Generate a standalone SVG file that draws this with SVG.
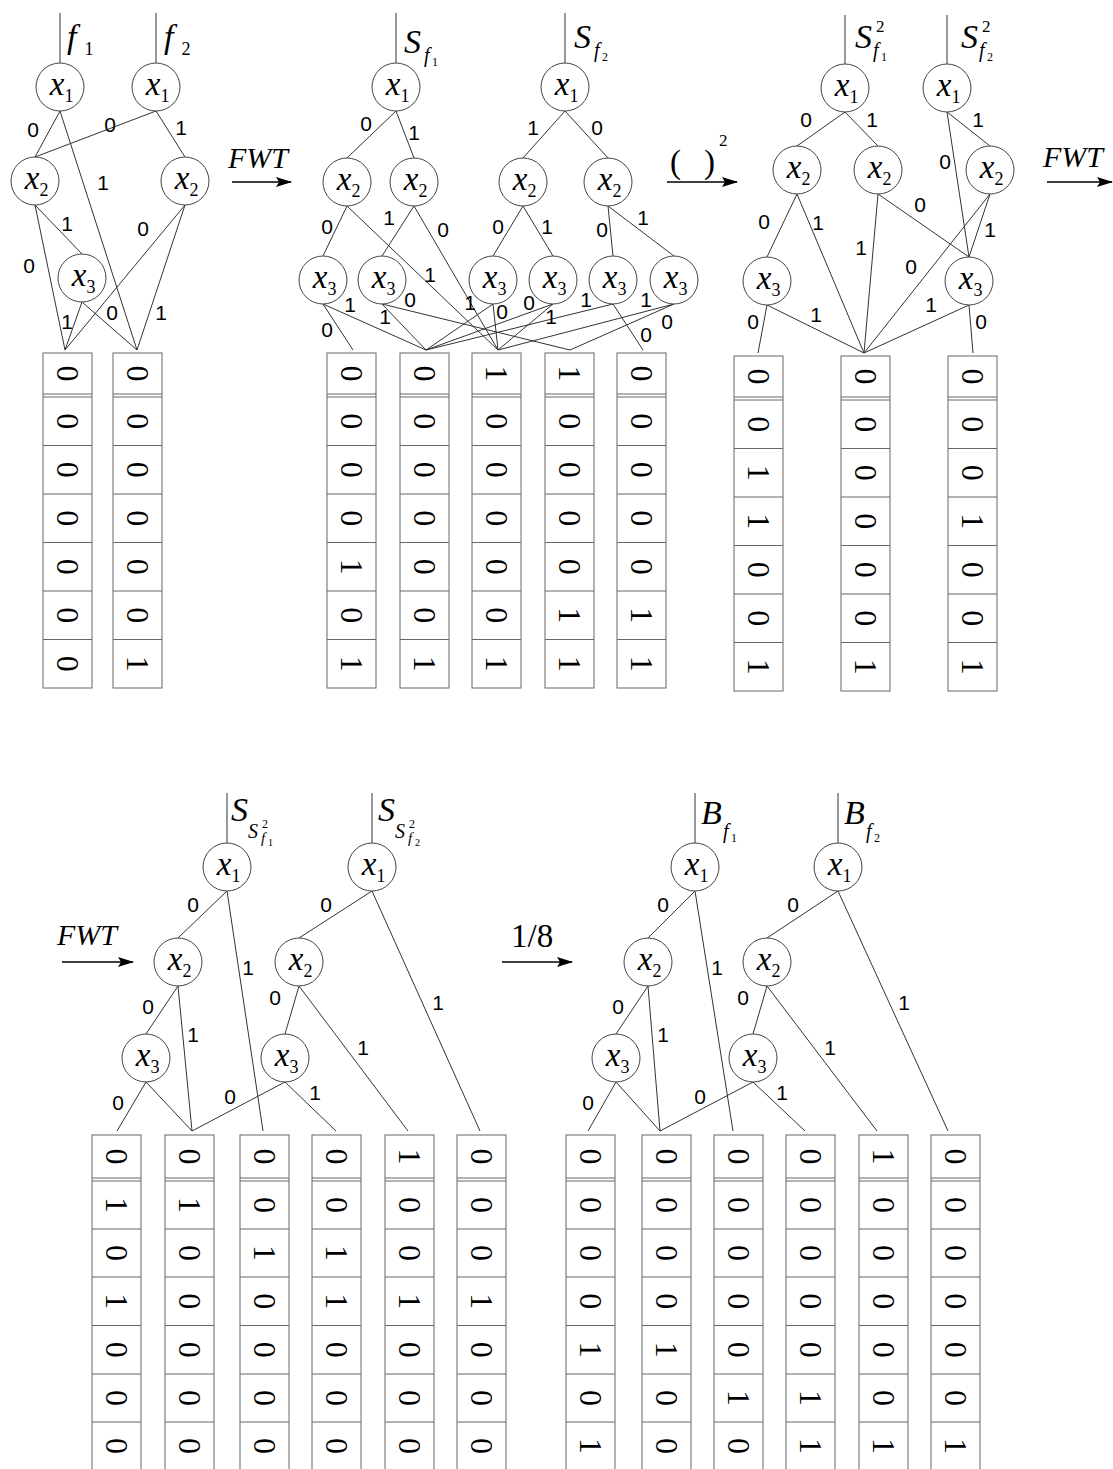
<svg xmlns="http://www.w3.org/2000/svg" width="1113" height="1469" viewBox="0 0 1113 1469">
<style>
.e{stroke:#333;stroke-width:1;fill:none}
.n circle{fill:#fff;stroke:#444;stroke-width:1}
.v{font-family:'Liberation Serif',serif;font-style:italic;font-size:33px;text-anchor:middle}
.s{font-family:'Liberation Serif',serif;font-size:18px;text-anchor:middle}
.l{font-family:'Liberation Sans',Arial,sans-serif;font-size:21px;text-anchor:middle}
.h{font-family:'Liberation Serif',serif;font-style:italic;font-size:34px}
.hs{font-family:'Liberation Serif',serif;font-style:italic;font-size:20px}
.hm{font-family:'Liberation Serif',serif;font-style:italic;font-size:15px}
.t{font-family:'Liberation Serif',serif;font-size:12px}
.tt{font-family:'Liberation Serif',serif;font-size:10px}
.sup{font-family:'Liberation Serif',serif;font-size:17px}
.c{fill:#fff;stroke:#666;stroke-width:1}
.cl{stroke:#666;stroke-width:1;fill:none}
.d{font-family:'Liberation Serif',serif;font-size:32px;text-anchor:middle}
.a{stroke:#000;stroke-width:1.5;fill:none}
.at{font-family:'Liberation Serif',serif;font-style:italic;font-size:30px}
.au{font-family:'Liberation Serif',serif;font-size:33px}
</style>
<defs>
<marker id="ah" markerWidth="16" markerHeight="12" refX="15" refY="6" orient="auto" markerUnits="userSpaceOnUse"><path d="M0,1 L16,6 L0,11 L3,6 z" fill="#000"/></marker>
</defs>

<g id="connectors">
<path class="e" d="M60,13V63 M156,13V63"/>
<path class="e" d="M60,111L35,157 M60,111L137,350 M156,111L35,157 M156,111L185,157 M35,205L82,254 M35,205L65,350 M185,205L65,350 M185,205L137,350 M82,302L65,350 M82,302L137,350"/>
<path class="e" d="M396,13V63 M565,13V63"/>
<path class="e" d="M396,111L347,158 M396,111L414,158 M565,111L523,158 M565,111L608,158 M347,206L323,256 M347,206L498,350 M414,206L382,256 M414,206L498,350 M523,206L493,256 M523,206L553,256 M608,206L613,256 M608,206L674,256"/>
<path class="e" d="M323,304L353,350 M323,304L426,350 M382,304L426,350 M382,304L570,350 M493,304L426,350 M493,304L498,350 M553,304L426,350 M553,304L498,350 M613,304L426,350 M613,304L643,350 M674,304L498,350 M674,304L570,350"/>
<path class="e" d="M845,15V64 M947,15V64"/>
<path class="e" d="M845,112L797,146 M845,112L878,146 M947,112L990,146 M947,112L969,257 M797,194L767,257 M797,194L864,353 M878,194L864,353 M878,194L969,257 M990,194L864,353 M990,194L969,257 M767,305L758,353 M767,305L864,353 M969,305L864,353 M969,305L973,353"/>
<path class="e" d="M227,793V843 M372,793V843"/>
<path class="e" d="M227,891L178,938 M227,891L263,1131 M372,891L299,938 M372,891L480,1131 M178,986L146,1034 M178,986L192,1131 M299,986L285,1034 M299,986L408,1131 M146,1082L117,1131 M146,1082L192,1131 M285,1082L192,1131 M285,1082L336,1131"/>
<path class="e" d="M695,793V843 M838,793V843"/>
<path class="e" d="M695,891L648,938 M695,891L733,1131 M838,891L767,938 M838,891L948,1131 M648,986L616,1034 M648,986L660,1131 M767,986L753,1034 M767,986L877,1131 M616,1082L588,1131 M616,1082L660,1131 M753,1082L660,1131 M753,1082L805,1131"/>
</g>

<g id="edge-labels" class="l">
<text x="33" y="137">0</text><text x="110" y="132">0</text><text x="181" y="135">1</text><text x="103" y="190">1</text>
<text x="67" y="231">1</text><text x="143" y="236">0</text><text x="29" y="273">0</text>
<text x="67" y="329">1</text><text x="112" y="320">0</text><text x="161" y="320">1</text>

<text x="366" y="131">0</text><text x="414" y="140">1</text><text x="533" y="135">1</text><text x="597" y="135">0</text>
<text x="327" y="234">0</text><text x="430" y="282">1</text><text x="389" y="225">1</text><text x="443" y="237">0</text>
<text x="498" y="234">0</text><text x="547" y="234">1</text><text x="602" y="237">0</text><text x="643" y="225">1</text>
<text x="327" y="337">0</text><text x="350" y="312">1</text><text x="385" y="324">1</text><text x="410" y="307">0</text>
<text x="470" y="310">1</text><text x="502" y="319">0</text><text x="529" y="310">0</text><text x="551" y="324">1</text>
<text x="586" y="307">1</text><text x="646" y="342">0</text><text x="646" y="307">1</text><text x="667" y="329">0</text>

<text x="806" y="127">0</text><text x="872" y="127">1</text><text x="978" y="127">1</text><text x="945" y="169">0</text>
<text x="764" y="229">0</text><text x="818" y="230">1</text><text x="861" y="255">1</text><text x="920" y="212">0</text>
<text x="911" y="274">0</text><text x="990" y="237">1</text>
<text x="753" y="329">0</text><text x="816" y="322">1</text><text x="931" y="312">1</text><text x="981" y="329">0</text>

<text x="193" y="912">0</text><text x="248" y="975">1</text><text x="326" y="912">0</text><text x="438" y="1010">1</text>
<text x="148" y="1014">0</text><text x="193" y="1042">1</text><text x="275" y="1005">0</text><text x="363" y="1055">1</text>
<text x="118" y="1110">0</text><text x="230" y="1104">0</text><text x="315" y="1100">1</text>

<text x="663" y="912">0</text><text x="717" y="975">1</text><text x="793" y="912">0</text><text x="904" y="1010">1</text>
<text x="618" y="1014">0</text><text x="663" y="1042">1</text><text x="743" y="1005">0</text><text x="830" y="1055">1</text>
<text x="588" y="1110">0</text><text x="700" y="1104">0</text><text x="782" y="1100">1</text>
</g>

<g id="s1-x1a" class="n"><circle cx="60" cy="87" r="24"/><text class="v" x="57" y="95">x</text><text class="s" x="69" y="102">1</text></g>
<g id="s1-x1b" class="n"><circle cx="156" cy="87" r="24"/><text class="v" x="153" y="95">x</text><text class="s" x="165" y="102">1</text></g>
<g id="s1-x2a" class="n"><circle cx="35" cy="181" r="24"/><text class="v" x="32" y="189">x</text><text class="s" x="44" y="196">2</text></g>
<g id="s1-x2b" class="n"><circle cx="185" cy="181" r="24"/><text class="v" x="182" y="189">x</text><text class="s" x="194" y="196">2</text></g>
<g id="s1-x3" class="n"><circle cx="82" cy="278" r="24"/><text class="v" x="79" y="286">x</text><text class="s" x="91" y="293">3</text></g>

<g id="s2-x1a" class="n"><circle cx="396" cy="87" r="24"/><text class="v" x="393" y="95">x</text><text class="s" x="405" y="102">1</text></g>
<g id="s2-x1b" class="n"><circle cx="565" cy="87" r="24"/><text class="v" x="562" y="95">x</text><text class="s" x="574" y="102">1</text></g>
<g id="s2-x2a" class="n"><circle cx="347" cy="182" r="24"/><text class="v" x="344" y="190">x</text><text class="s" x="356" y="197">2</text></g>
<g id="s2-x2b" class="n"><circle cx="414" cy="182" r="24"/><text class="v" x="411" y="190">x</text><text class="s" x="423" y="197">2</text></g>
<g id="s2-x2c" class="n"><circle cx="523" cy="182" r="24"/><text class="v" x="520" y="190">x</text><text class="s" x="532" y="197">2</text></g>
<g id="s2-x2d" class="n"><circle cx="608" cy="182" r="24"/><text class="v" x="605" y="190">x</text><text class="s" x="617" y="197">2</text></g>
<g id="s2-x3a" class="n"><circle cx="323" cy="280" r="24"/><text class="v" x="320" y="288">x</text><text class="s" x="332" y="295">3</text></g>
<g id="s2-x3b" class="n"><circle cx="382" cy="280" r="24"/><text class="v" x="379" y="288">x</text><text class="s" x="391" y="295">3</text></g>
<g id="s2-x3c" class="n"><circle cx="493" cy="280" r="24"/><text class="v" x="490" y="288">x</text><text class="s" x="502" y="295">3</text></g>
<g id="s2-x3d" class="n"><circle cx="553" cy="280" r="24"/><text class="v" x="550" y="288">x</text><text class="s" x="562" y="295">3</text></g>
<g id="s2-x3e" class="n"><circle cx="613" cy="280" r="24"/><text class="v" x="610" y="288">x</text><text class="s" x="622" y="295">3</text></g>
<g id="s2-x3f" class="n"><circle cx="674" cy="280" r="24"/><text class="v" x="671" y="288">x</text><text class="s" x="683" y="295">3</text></g>

<g id="s3-x1a" class="n"><circle cx="845" cy="88" r="24"/><text class="v" x="842" y="96">x</text><text class="s" x="854" y="103">1</text></g>
<g id="s3-x1b" class="n"><circle cx="947" cy="88" r="24"/><text class="v" x="944" y="96">x</text><text class="s" x="956" y="103">1</text></g>
<g id="s3-x2a" class="n"><circle cx="797" cy="170" r="24"/><text class="v" x="794" y="178">x</text><text class="s" x="806" y="185">2</text></g>
<g id="s3-x2b" class="n"><circle cx="878" cy="170" r="24"/><text class="v" x="875" y="178">x</text><text class="s" x="887" y="185">2</text></g>
<g id="s3-x2c" class="n"><circle cx="990" cy="170" r="24"/><text class="v" x="987" y="178">x</text><text class="s" x="999" y="185">2</text></g>
<g id="s3-x3a" class="n"><circle cx="767" cy="281" r="24"/><text class="v" x="764" y="289">x</text><text class="s" x="776" y="296">3</text></g>
<g id="s3-x3b" class="n"><circle cx="969" cy="281" r="24"/><text class="v" x="966" y="289">x</text><text class="s" x="978" y="296">3</text></g>

<g id="s4-x1a" class="n"><circle cx="227" cy="867" r="24"/><text class="v" x="224" y="875">x</text><text class="s" x="236" y="882">1</text></g>
<g id="s4-x1b" class="n"><circle cx="372" cy="867" r="24"/><text class="v" x="369" y="875">x</text><text class="s" x="381" y="882">1</text></g>
<g id="s4-x2a" class="n"><circle cx="178" cy="962" r="24"/><text class="v" x="175" y="970">x</text><text class="s" x="187" y="977">2</text></g>
<g id="s4-x2b" class="n"><circle cx="299" cy="962" r="24"/><text class="v" x="296" y="970">x</text><text class="s" x="308" y="977">2</text></g>
<g id="s4-x3a" class="n"><circle cx="146" cy="1058" r="24"/><text class="v" x="143" y="1066">x</text><text class="s" x="155" y="1073">3</text></g>
<g id="s4-x3b" class="n"><circle cx="285" cy="1058" r="24"/><text class="v" x="282" y="1066">x</text><text class="s" x="294" y="1073">3</text></g>

<g id="s5-x1a" class="n"><circle cx="695" cy="867" r="24"/><text class="v" x="692" y="875">x</text><text class="s" x="704" y="882">1</text></g>
<g id="s5-x1b" class="n"><circle cx="838" cy="867" r="24"/><text class="v" x="835" y="875">x</text><text class="s" x="847" y="882">1</text></g>
<g id="s5-x2a" class="n"><circle cx="648" cy="962" r="24"/><text class="v" x="645" y="970">x</text><text class="s" x="657" y="977">2</text></g>
<g id="s5-x2b" class="n"><circle cx="767" cy="962" r="24"/><text class="v" x="764" y="970">x</text><text class="s" x="776" y="977">2</text></g>
<g id="s5-x3a" class="n"><circle cx="616" cy="1058" r="24"/><text class="v" x="613" y="1066">x</text><text class="s" x="625" y="1073">3</text></g>
<g id="s5-x3b" class="n"><circle cx="753" cy="1058" r="24"/><text class="v" x="750" y="1066">x</text><text class="s" x="762" y="1073">3</text></g>

<g id="titles">
<text class="h" x="67" y="48">f</text><text class="s" x="89" y="55">1</text>
<text class="h" x="164" y="48">f</text><text class="s" x="186" y="55">2</text>
<text class="h" x="404" y="53">S</text><text class="hs" x="424" y="62">f</text><text class="t" x="432" y="66">1</text>
<text class="h" x="574" y="48">S</text><text class="hs" x="594" y="57">f</text><text class="t" x="602" y="61">2</text>
<text class="h" x="855" y="48">S</text><text class="sup" x="876" y="32">2</text><text class="hs" x="873" y="57">f</text><text class="t" x="881" y="61">1</text>
<text class="h" x="961" y="48">S</text><text class="sup" x="982" y="32">2</text><text class="hs" x="979" y="57">f</text><text class="t" x="987" y="61">2</text>
<text class="h" x="231" y="821">S</text><text class="hs" x="248" y="838">S</text><text class="t" x="262" y="828">2</text><text class="hm" x="261" y="843">f</text><text class="tt" x="268" y="846">1</text>
<text class="h" x="378" y="821">S</text><text class="hs" x="395" y="838">S</text><text class="t" x="409" y="828">2</text><text class="hm" x="408" y="843">f</text><text class="tt" x="415" y="846">2</text>
<text class="h" x="701" y="824">B</text><text class="hs" x="723" y="838">f</text><text class="t" x="731" y="842">1</text>
<text class="h" x="844" y="824">B</text><text class="hs" x="866" y="838">f</text><text class="t" x="874" y="842">2</text>
</g>

<g id="arrows">
<text class="at" x="228" y="168">FWT</text><path class="a" d="M232,182H291" marker-end="url(#ah)"/>
<text class="au" x="670" y="173">(</text><text class="au" x="704" y="173">)</text><text class="sup" x="719" y="146">2</text><path class="a" d="M667,182H737" marker-end="url(#ah)"/>
<text class="at" x="1043" y="167">FWT</text><path class="a" d="M1047,182H1112" marker-end="url(#ah)"/>
<text class="at" x="57" y="945">FWT</text><path class="a" d="M62,962H133" marker-end="url(#ah)"/>
<text class="au" x="511" y="947">1/8</text><path class="a" d="M502,962H572" marker-end="url(#ah)"/>
</g>

<g id="s1-cells">
<rect class="c" x="43" y="353" width="49" height="335"/><rect class="c" x="113" y="353" width="49" height="335"/>
<path class="cl" d="M43,394h49M43,397h49M43,445.5h49M43,494h49M43,542.5h49M43,591h49M43,639.5h49 M113,394h49M113,397h49M113,445.5h49M113,494h49M113,542.5h49M113,591h49M113,639.5h49"/>
</g>
<g id="s2-cells">
<rect class="c" x="327" y="353" width="49" height="335"/><rect class="c" x="400" y="353" width="49" height="335"/><rect class="c" x="472" y="353" width="49" height="335"/><rect class="c" x="545" y="353" width="49" height="335"/><rect class="c" x="617" y="353" width="49" height="335"/>
<path class="cl" d="M327,394h49M327,397h49M327,445.5h49M327,494h49M327,542.5h49M327,591h49M327,639.5h49 M400,394h49M400,397h49M400,445.5h49M400,494h49M400,542.5h49M400,591h49M400,639.5h49 M472,394h49M472,397h49M472,445.5h49M472,494h49M472,542.5h49M472,591h49M472,639.5h49 M545,394h49M545,397h49M545,445.5h49M545,494h49M545,542.5h49M545,591h49M545,639.5h49 M617,394h49M617,397h49M617,445.5h49M617,494h49M617,542.5h49M617,591h49M617,639.5h49"/>
</g>
<g id="s3-cells">
<rect class="c" x="734" y="356" width="49" height="335"/><rect class="c" x="841" y="356" width="49" height="335"/><rect class="c" x="948" y="356" width="49" height="335"/>
<path class="cl" d="M734,397h49M734,400h49M734,448.5h49M734,497h49M734,545.5h49M734,594h49M734,642.5h49 M841,397h49M841,400h49M841,448.5h49M841,497h49M841,545.5h49M841,594h49M841,642.5h49 M948,397h49M948,400h49M948,448.5h49M948,497h49M948,545.5h49M948,594h49M948,642.5h49"/>
</g>
<g id="s4-cells">
<rect class="c" x="92" y="1135" width="49" height="340"/><rect class="c" x="165" y="1135" width="49" height="340"/><rect class="c" x="240" y="1135" width="49" height="340"/><rect class="c" x="312" y="1135" width="49" height="340"/><rect class="c" x="385" y="1135" width="49" height="340"/><rect class="c" x="457" y="1135" width="49" height="340"/>
<path class="cl" d="M92,1178h49M92,1181h49M92,1229h49M92,1277h49M92,1325.5h49M92,1374h49M92,1422h49 M165,1178h49M165,1181h49M165,1229h49M165,1277h49M165,1325.5h49M165,1374h49M165,1422h49 M240,1178h49M240,1181h49M240,1229h49M240,1277h49M240,1325.5h49M240,1374h49M240,1422h49 M312,1178h49M312,1181h49M312,1229h49M312,1277h49M312,1325.5h49M312,1374h49M312,1422h49 M385,1178h49M385,1181h49M385,1229h49M385,1277h49M385,1325.5h49M385,1374h49M385,1422h49 M457,1178h49M457,1181h49M457,1229h49M457,1277h49M457,1325.5h49M457,1374h49M457,1422h49"/>
</g>
<g id="s5-cells">
<rect class="c" x="566" y="1135" width="49" height="340"/><rect class="c" x="642" y="1135" width="49" height="340"/><rect class="c" x="714" y="1135" width="49" height="340"/><rect class="c" x="786" y="1135" width="49" height="340"/><rect class="c" x="859" y="1135" width="49" height="340"/><rect class="c" x="931" y="1135" width="49" height="340"/>
<path class="cl" d="M566,1178h49M566,1181h49M566,1229h49M566,1277h49M566,1325.5h49M566,1374h49M566,1422h49 M642,1178h49M642,1181h49M642,1229h49M642,1277h49M642,1325.5h49M642,1374h49M642,1422h49 M714,1178h49M714,1181h49M714,1229h49M714,1277h49M714,1325.5h49M714,1374h49M714,1422h49 M786,1178h49M786,1181h49M786,1229h49M786,1277h49M786,1325.5h49M786,1374h49M786,1422h49 M859,1178h49M859,1181h49M859,1229h49M859,1277h49M859,1325.5h49M859,1374h49M859,1422h49 M931,1178h49M931,1181h49M931,1229h49M931,1277h49M931,1325.5h49M931,1374h49M931,1422h49"/>
</g>

<g id="digits" class="d">
<text transform="translate(67.5,373.5) rotate(90)" y="11">0</text><text transform="translate(67.5,421.3) rotate(90)" y="11">0</text><text transform="translate(67.5,469.8) rotate(90)" y="11">0</text><text transform="translate(67.5,518.3) rotate(90)" y="11">0</text><text transform="translate(67.5,566.8) rotate(90)" y="11">0</text><text transform="translate(67.5,615.3) rotate(90)" y="11">0</text><text transform="translate(67.5,663.8) rotate(90)" y="11">0</text>
<text transform="translate(137.5,373.5) rotate(90)" y="11">0</text><text transform="translate(137.5,421.3) rotate(90)" y="11">0</text><text transform="translate(137.5,469.8) rotate(90)" y="11">0</text><text transform="translate(137.5,518.3) rotate(90)" y="11">0</text><text transform="translate(137.5,566.8) rotate(90)" y="11">0</text><text transform="translate(137.5,615.3) rotate(90)" y="11">0</text><text transform="translate(137.5,663.8) rotate(90)" y="11">1</text>
<text transform="translate(351.5,373.5) rotate(90)" y="11">0</text><text transform="translate(351.5,421.3) rotate(90)" y="11">0</text><text transform="translate(351.5,469.8) rotate(90)" y="11">0</text><text transform="translate(351.5,518.3) rotate(90)" y="11">0</text><text transform="translate(351.5,566.8) rotate(90)" y="11">1</text><text transform="translate(351.5,615.3) rotate(90)" y="11">0</text><text transform="translate(351.5,663.8) rotate(90)" y="11">1</text>
<text transform="translate(424.5,373.5) rotate(90)" y="11">0</text><text transform="translate(424.5,421.3) rotate(90)" y="11">0</text><text transform="translate(424.5,469.8) rotate(90)" y="11">0</text><text transform="translate(424.5,518.3) rotate(90)" y="11">0</text><text transform="translate(424.5,566.8) rotate(90)" y="11">0</text><text transform="translate(424.5,615.3) rotate(90)" y="11">0</text><text transform="translate(424.5,663.8) rotate(90)" y="11">1</text>
<text transform="translate(496.5,373.5) rotate(90)" y="11">1</text><text transform="translate(496.5,421.3) rotate(90)" y="11">0</text><text transform="translate(496.5,469.8) rotate(90)" y="11">0</text><text transform="translate(496.5,518.3) rotate(90)" y="11">0</text><text transform="translate(496.5,566.8) rotate(90)" y="11">0</text><text transform="translate(496.5,615.3) rotate(90)" y="11">0</text><text transform="translate(496.5,663.8) rotate(90)" y="11">1</text>
<text transform="translate(569.5,373.5) rotate(90)" y="11">1</text><text transform="translate(569.5,421.3) rotate(90)" y="11">0</text><text transform="translate(569.5,469.8) rotate(90)" y="11">0</text><text transform="translate(569.5,518.3) rotate(90)" y="11">0</text><text transform="translate(569.5,566.8) rotate(90)" y="11">0</text><text transform="translate(569.5,615.3) rotate(90)" y="11">1</text><text transform="translate(569.5,663.8) rotate(90)" y="11">1</text>
<text transform="translate(641.5,373.5) rotate(90)" y="11">0</text><text transform="translate(641.5,421.3) rotate(90)" y="11">0</text><text transform="translate(641.5,469.8) rotate(90)" y="11">0</text><text transform="translate(641.5,518.3) rotate(90)" y="11">0</text><text transform="translate(641.5,566.8) rotate(90)" y="11">0</text><text transform="translate(641.5,615.3) rotate(90)" y="11">1</text><text transform="translate(641.5,663.8) rotate(90)" y="11">1</text>
<text transform="translate(758.5,376.5) rotate(90)" y="11">0</text><text transform="translate(758.5,424.3) rotate(90)" y="11">0</text><text transform="translate(758.5,472.8) rotate(90)" y="11">1</text><text transform="translate(758.5,521.3) rotate(90)" y="11">1</text><text transform="translate(758.5,569.8) rotate(90)" y="11">0</text><text transform="translate(758.5,618.3) rotate(90)" y="11">0</text><text transform="translate(758.5,666.8) rotate(90)" y="11">1</text>
<text transform="translate(865.5,376.5) rotate(90)" y="11">0</text><text transform="translate(865.5,424.3) rotate(90)" y="11">0</text><text transform="translate(865.5,472.8) rotate(90)" y="11">0</text><text transform="translate(865.5,521.3) rotate(90)" y="11">0</text><text transform="translate(865.5,569.8) rotate(90)" y="11">0</text><text transform="translate(865.5,618.3) rotate(90)" y="11">0</text><text transform="translate(865.5,666.8) rotate(90)" y="11">1</text>
<text transform="translate(972.5,376.5) rotate(90)" y="11">0</text><text transform="translate(972.5,424.3) rotate(90)" y="11">0</text><text transform="translate(972.5,472.8) rotate(90)" y="11">0</text><text transform="translate(972.5,521.3) rotate(90)" y="11">1</text><text transform="translate(972.5,569.8) rotate(90)" y="11">0</text><text transform="translate(972.5,618.3) rotate(90)" y="11">0</text><text transform="translate(972.5,666.8) rotate(90)" y="11">1</text>
<text transform="translate(116.5,1156.5) rotate(90)" y="11">0</text><text transform="translate(116.5,1205) rotate(90)" y="11">1</text><text transform="translate(116.5,1253) rotate(90)" y="11">0</text><text transform="translate(116.5,1301.3) rotate(90)" y="11">1</text><text transform="translate(116.5,1349.8) rotate(90)" y="11">0</text><text transform="translate(116.5,1398) rotate(90)" y="11">0</text><text transform="translate(116.5,1446) rotate(90)" y="11">0</text>
<text transform="translate(189.5,1156.5) rotate(90)" y="11">0</text><text transform="translate(189.5,1205) rotate(90)" y="11">1</text><text transform="translate(189.5,1253) rotate(90)" y="11">0</text><text transform="translate(189.5,1301.3) rotate(90)" y="11">0</text><text transform="translate(189.5,1349.8) rotate(90)" y="11">0</text><text transform="translate(189.5,1398) rotate(90)" y="11">0</text><text transform="translate(189.5,1446) rotate(90)" y="11">0</text>
<text transform="translate(264.5,1156.5) rotate(90)" y="11">0</text><text transform="translate(264.5,1205) rotate(90)" y="11">0</text><text transform="translate(264.5,1253) rotate(90)" y="11">1</text><text transform="translate(264.5,1301.3) rotate(90)" y="11">0</text><text transform="translate(264.5,1349.8) rotate(90)" y="11">0</text><text transform="translate(264.5,1398) rotate(90)" y="11">0</text><text transform="translate(264.5,1446) rotate(90)" y="11">0</text>
<text transform="translate(336.5,1156.5) rotate(90)" y="11">0</text><text transform="translate(336.5,1205) rotate(90)" y="11">0</text><text transform="translate(336.5,1253) rotate(90)" y="11">1</text><text transform="translate(336.5,1301.3) rotate(90)" y="11">1</text><text transform="translate(336.5,1349.8) rotate(90)" y="11">0</text><text transform="translate(336.5,1398) rotate(90)" y="11">0</text><text transform="translate(336.5,1446) rotate(90)" y="11">0</text>
<text transform="translate(409.5,1156.5) rotate(90)" y="11">1</text><text transform="translate(409.5,1205) rotate(90)" y="11">0</text><text transform="translate(409.5,1253) rotate(90)" y="11">0</text><text transform="translate(409.5,1301.3) rotate(90)" y="11">1</text><text transform="translate(409.5,1349.8) rotate(90)" y="11">0</text><text transform="translate(409.5,1398) rotate(90)" y="11">0</text><text transform="translate(409.5,1446) rotate(90)" y="11">0</text>
<text transform="translate(481.5,1156.5) rotate(90)" y="11">0</text><text transform="translate(481.5,1205) rotate(90)" y="11">0</text><text transform="translate(481.5,1253) rotate(90)" y="11">0</text><text transform="translate(481.5,1301.3) rotate(90)" y="11">1</text><text transform="translate(481.5,1349.8) rotate(90)" y="11">0</text><text transform="translate(481.5,1398) rotate(90)" y="11">0</text><text transform="translate(481.5,1446) rotate(90)" y="11">0</text>
<text transform="translate(590.5,1156.5) rotate(90)" y="11">0</text><text transform="translate(590.5,1205) rotate(90)" y="11">0</text><text transform="translate(590.5,1253) rotate(90)" y="11">0</text><text transform="translate(590.5,1301.3) rotate(90)" y="11">0</text><text transform="translate(590.5,1349.8) rotate(90)" y="11">1</text><text transform="translate(590.5,1398) rotate(90)" y="11">0</text><text transform="translate(590.5,1446) rotate(90)" y="11">1</text>
<text transform="translate(666.5,1156.5) rotate(90)" y="11">0</text><text transform="translate(666.5,1205) rotate(90)" y="11">0</text><text transform="translate(666.5,1253) rotate(90)" y="11">0</text><text transform="translate(666.5,1301.3) rotate(90)" y="11">0</text><text transform="translate(666.5,1349.8) rotate(90)" y="11">1</text><text transform="translate(666.5,1398) rotate(90)" y="11">0</text><text transform="translate(666.5,1446) rotate(90)" y="11">0</text>
<text transform="translate(738.5,1156.5) rotate(90)" y="11">0</text><text transform="translate(738.5,1205) rotate(90)" y="11">0</text><text transform="translate(738.5,1253) rotate(90)" y="11">0</text><text transform="translate(738.5,1301.3) rotate(90)" y="11">0</text><text transform="translate(738.5,1349.8) rotate(90)" y="11">0</text><text transform="translate(738.5,1398) rotate(90)" y="11">1</text><text transform="translate(738.5,1446) rotate(90)" y="11">0</text>
<text transform="translate(810.5,1156.5) rotate(90)" y="11">0</text><text transform="translate(810.5,1205) rotate(90)" y="11">0</text><text transform="translate(810.5,1253) rotate(90)" y="11">0</text><text transform="translate(810.5,1301.3) rotate(90)" y="11">0</text><text transform="translate(810.5,1349.8) rotate(90)" y="11">0</text><text transform="translate(810.5,1398) rotate(90)" y="11">1</text><text transform="translate(810.5,1446) rotate(90)" y="11">1</text>
<text transform="translate(883.5,1156.5) rotate(90)" y="11">1</text><text transform="translate(883.5,1205) rotate(90)" y="11">0</text><text transform="translate(883.5,1253) rotate(90)" y="11">0</text><text transform="translate(883.5,1301.3) rotate(90)" y="11">0</text><text transform="translate(883.5,1349.8) rotate(90)" y="11">0</text><text transform="translate(883.5,1398) rotate(90)" y="11">0</text><text transform="translate(883.5,1446) rotate(90)" y="11">1</text>
<text transform="translate(955.5,1156.5) rotate(90)" y="11">0</text><text transform="translate(955.5,1205) rotate(90)" y="11">0</text><text transform="translate(955.5,1253) rotate(90)" y="11">0</text><text transform="translate(955.5,1301.3) rotate(90)" y="11">0</text><text transform="translate(955.5,1349.8) rotate(90)" y="11">0</text><text transform="translate(955.5,1398) rotate(90)" y="11">0</text><text transform="translate(955.5,1446) rotate(90)" y="11">1</text>
</g>
</svg>
